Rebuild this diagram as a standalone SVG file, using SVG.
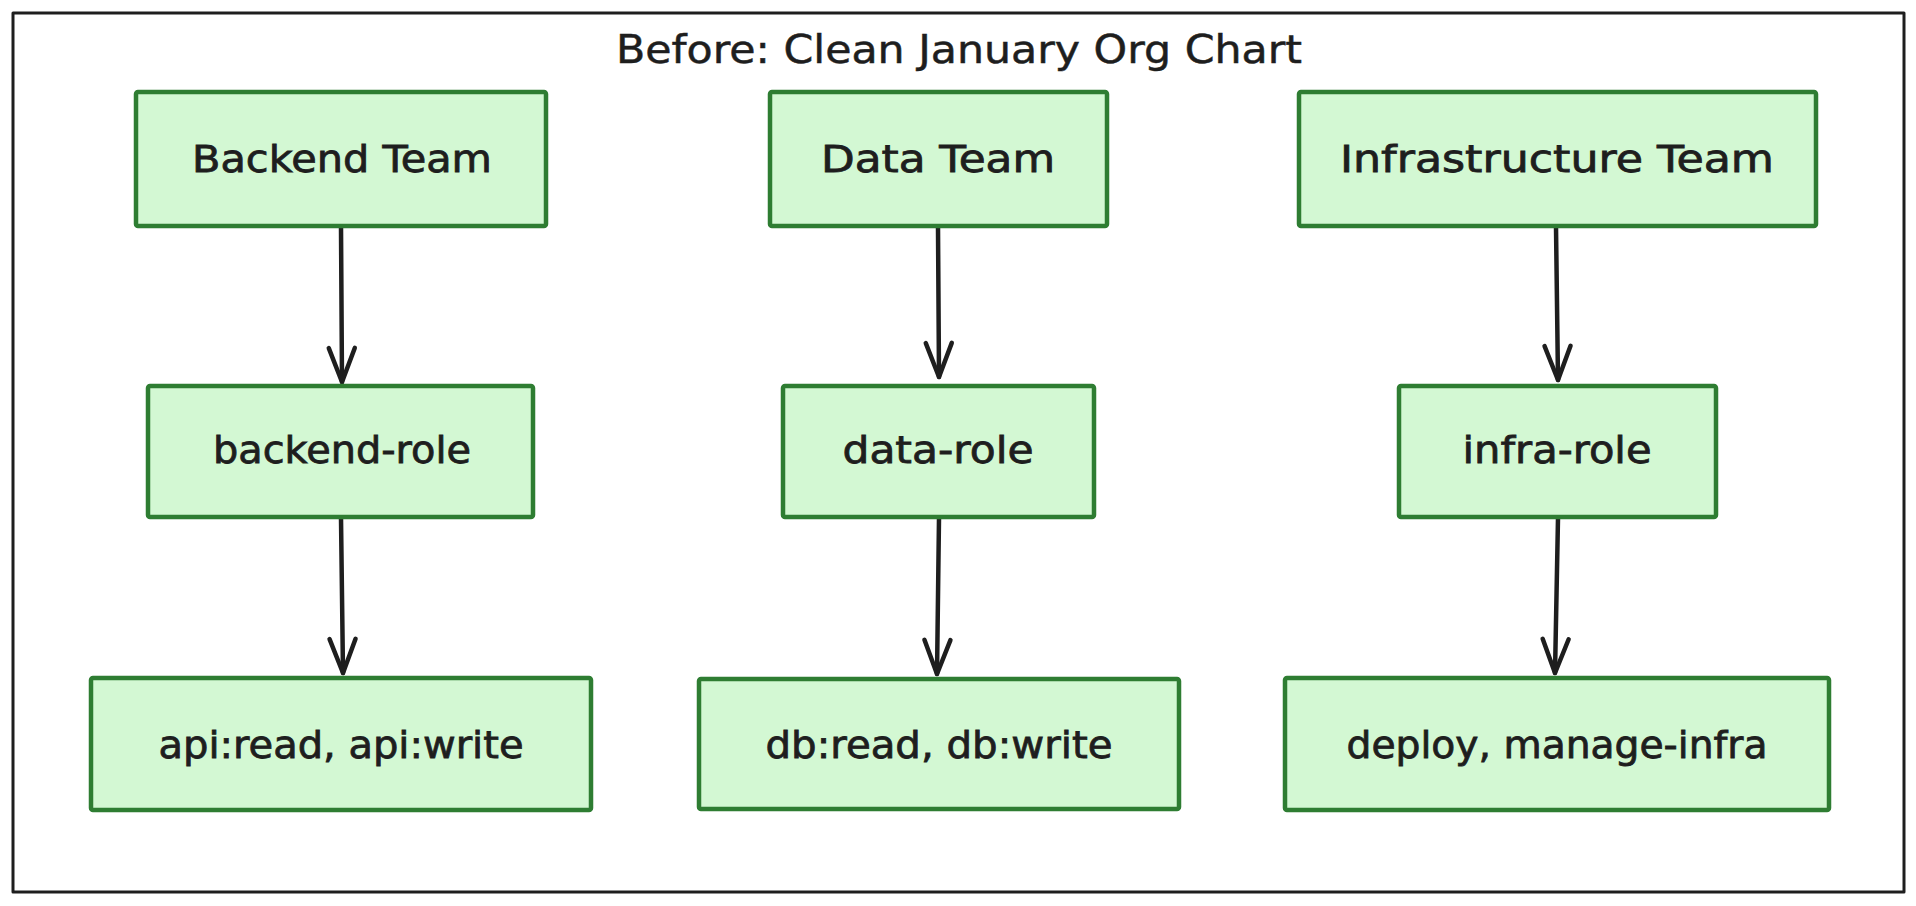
<svg xmlns="http://www.w3.org/2000/svg" width="1916" height="906" viewBox="0 0 1916 906">
  <style>
    .frame { fill: none; stroke: #1e1e1e; stroke-width: 3; stroke-linejoin: round; }
    .box { fill: #d3f8d3; stroke: #2e7d32; stroke-width: 4.5; stroke-linejoin: round; }
    .lbl { font-family: "DejaVu Sans", "Liberation Sans", sans-serif; font-size: 38px; fill: #1e1e1e; stroke: #1e1e1e; stroke-width: 0.8; text-anchor: middle; }
    .title { font-family: "DejaVu Sans", "Liberation Sans", sans-serif; font-size: 39px; fill: #1e1e1e; stroke: #1e1e1e; stroke-width: 0.5; text-anchor: middle; }
    .edge { fill: none; stroke: #1e1e1e; stroke-width: 4.5; stroke-linecap: round; marker-end: url(#arrow); }
  </style>
  <defs>
    <marker id="arrow" markerUnits="userSpaceOnUse" markerWidth="60" markerHeight="60" refX="0" refY="0" orient="auto" overflow="visible">
      <path d="M -34 -13 L 0 0 L -34 13" fill="none" stroke="#1e1e1e" stroke-width="4.5" stroke-linecap="round" stroke-linejoin="round"/>
    </marker>
  </defs>
  <rect x="0" y="0" width="1916" height="906" fill="#ffffff"/>
  <g id="frame">
    <rect class="frame" x="13" y="13" width="1891" height="879"/>
    <text class="title" x="959" y="63" textLength="686" lengthAdjust="spacingAndGlyphs">Before: Clean January Org Chart</text>
  </g>
  <g id="connectors">
    <path class="edge" d="M 341 227 L 342 382"/>
    <path class="edge" d="M 341 518 L 343 673"/>
    <path class="edge" d="M 938 227 L 939 377"/>
    <path class="edge" d="M 939 518 L 937 674"/>
    <path class="edge" d="M 1556 227 L 1558 380"/>
    <path class="edge" d="M 1558 518 L 1555 673"/>
  </g>
  <g id="backend-team">
    <rect class="box" x="136" y="92" width="410" height="134" rx="2"/>
    <text class="lbl" x="342" y="172" textLength="300" lengthAdjust="spacingAndGlyphs">Backend Team</text>
  </g>
  <g id="data-team">
    <rect class="box" x="770" y="92" width="337" height="134" rx="2"/>
    <text class="lbl" x="938" y="172" textLength="234" lengthAdjust="spacingAndGlyphs">Data Team</text>
  </g>
  <g id="infra-team">
    <rect class="box" x="1299" y="92" width="517" height="134" rx="2"/>
    <text class="lbl" x="1557" y="172" textLength="434" lengthAdjust="spacingAndGlyphs">Infrastructure Team</text>
  </g>
  <g id="backend-role">
    <rect class="box" x="148" y="386" width="385" height="131" rx="2"/>
    <text class="lbl" x="342" y="463" textLength="258" lengthAdjust="spacingAndGlyphs">backend-role</text>
  </g>
  <g id="data-role">
    <rect class="box" x="783" y="386" width="311" height="131" rx="2"/>
    <text class="lbl" x="938" y="463" textLength="191" lengthAdjust="spacingAndGlyphs">data-role</text>
  </g>
  <g id="infra-role">
    <rect class="box" x="1399" y="386" width="317" height="131" rx="2"/>
    <text class="lbl" x="1557" y="463" textLength="189" lengthAdjust="spacingAndGlyphs">infra-role</text>
  </g>
  <g id="api-perms">
    <rect class="box" x="91" y="678" width="500" height="132" rx="2"/>
    <text class="lbl" x="341" y="758" textLength="365" lengthAdjust="spacingAndGlyphs">api:read, api:write</text>
  </g>
  <g id="db-perms">
    <rect class="box" x="699" y="679" width="480" height="130" rx="2"/>
    <text class="lbl" x="939" y="758" textLength="347" lengthAdjust="spacingAndGlyphs">db:read, db:write</text>
  </g>
  <g id="infra-perms">
    <rect class="box" x="1285" y="678" width="544" height="132" rx="2"/>
    <text class="lbl" x="1557" y="758" textLength="421" lengthAdjust="spacingAndGlyphs">deploy, manage-infra</text>
  </g>
</svg>
